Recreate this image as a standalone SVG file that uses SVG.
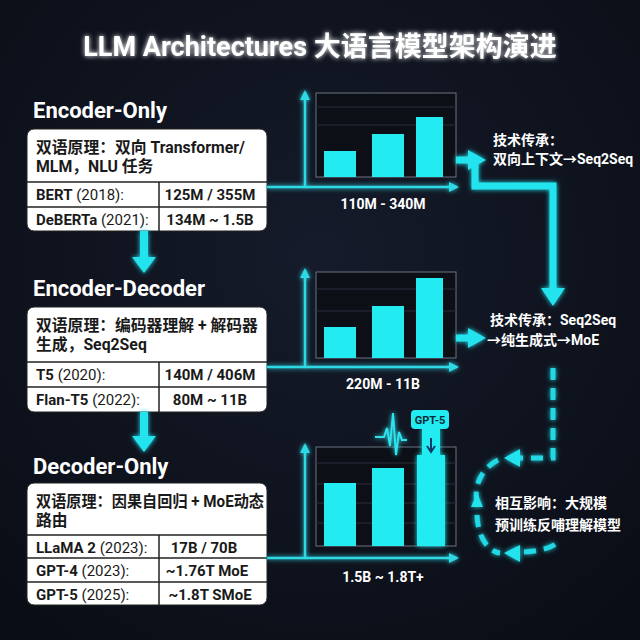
<svg xmlns="http://www.w3.org/2000/svg" width="640" height="640" viewBox="0 0 640 640">
<defs>
<radialGradient id="bg" cx="50%" cy="40%" r="75%"><stop offset="0" stop-color="#151b2a"/><stop offset="1" stop-color="#0a0d15"/></radialGradient>
<filter id="glow" x="-20%" y="-20%" width="140%" height="140%"><feGaussianBlur stdDeviation="2.5" result="b"/><feMerge><feMergeNode in="b"/><feMergeNode in="SourceGraphic"/></feMerge></filter>
<marker id="ah" viewBox="0 0 10 10" refX="8" refY="5" markerWidth="4" markerHeight="4" orient="auto"><path d="M0,0 L10,5 L0,10 z" fill="#2fd9e6"/></marker>
<style>
text{font-family:Roboto,"Noto Sans CJK SC",sans-serif}
.ttl{font-size:27px;font-weight:700;fill:#fff}
.h{font-size:22px;font-weight:700;fill:#fff}
.card{fill:#fff;stroke:#222;stroke-width:1}
.div{stroke:#222;stroke-width:1.5}
.d{font-size:15.8px;font-weight:700;fill:#1a1a1a}
.r{font-size:15px;fill:#1a1a1a}
.rb{font-weight:700}
.v{font-size:15px;font-weight:700;fill:#1a1a1a;text-anchor:middle}
.ax{stroke:#2fd9e6;stroke-width:2.5;fill:none}
.box{fill:#0c0f16;stroke:#6b7280;stroke-width:1}
.grid{stroke:#2a2f3a;stroke-width:1}
.bar{fill:#22ecf2}
.lab{font-size:14px;font-weight:700;fill:#fff;text-anchor:middle}
.note{font-size:14px;font-weight:700;fill:#fff}
.thick{stroke:#22e3ee;stroke-width:7;fill:none}
.dash{stroke:#22d8e4;stroke-width:5;fill:none;stroke-dasharray:12 8}
.cy{fill:#22e3ee}
</style>
</defs>
<rect width="640" height="640" fill="url(#bg)"/>
<text class="ttl" x="320" y="56" text-anchor="middle" filter="url(#glow)">LLM Architectures 大语言模型架构演进</text>

<g id="encoder-only">
<text class="h" x="33" y="118">Encoder-Only</text>
<rect class="card" x="27" y="129" width="240" height="102" rx="7"/>
<line class="div" x1="27" y1="182" x2="267" y2="182"/><line class="div" x1="27" y1="207" x2="267" y2="207"/><line class="div" x1="159" y1="182" x2="159" y2="231"/>
<text class="d" x="36" y="153">双语原理：双向 Transformer/</text>
<text class="d" x="36" y="172">MLM，NLU 任务</text>
<text class="r" x="36" y="200"><tspan class="rb">BERT</tspan> (2018):</text>
<text class="r" x="36" y="225"><tspan class="rb">DeBERTa</tspan> (2021):</text>
<text class="v" x="210" y="200">125M / 355M</text>
<text class="v" x="210" y="225">134M ~ 1.5B</text>
</g>

<g id="encoder-decoder">
<text class="h" x="33" y="296">Encoder-Decoder</text>
<rect class="card" x="27" y="307" width="240" height="105" rx="7"/>
<line class="div" x1="27" y1="362" x2="267" y2="362"/><line class="div" x1="27" y1="387" x2="267" y2="387"/><line class="div" x1="159" y1="362" x2="159" y2="412"/>
<text class="d" x="36" y="331">双语原理：编码器理解 + 解码器</text>
<text class="d" x="36" y="350">生成，Seq2Seq</text>
<text class="r" x="36" y="380"><tspan class="rb">T5</tspan> (2020):</text>
<text class="r" x="36" y="405"><tspan class="rb">Flan-T5</tspan> (2022):</text>
<text class="v" x="210" y="380">140M / 406M</text>
<text class="v" x="210" y="405">80M ~ 11B</text>
</g>

<g id="decoder-only">
<text class="h" x="33" y="474">Decoder-Only</text>
<rect class="card" x="27" y="483" width="240" height="122" rx="7"/>
<line class="div" x1="27" y1="535" x2="267" y2="535"/><line class="div" x1="27" y1="558" x2="267" y2="558"/><line class="div" x1="27" y1="582" x2="267" y2="582"/><line class="div" x1="159" y1="535" x2="159" y2="605"/>
<text class="d" x="36" y="507" textLength="228" lengthAdjust="spacingAndGlyphs">双语原理：因果自回归 + MoE动态</text>
<text class="d" x="36" y="526">路由</text>
<text class="r" x="36" y="553"><tspan class="rb">LLaMA 2</tspan> (2023):</text>
<text class="r" x="36" y="576"><tspan class="rb">GPT-4</tspan> (2023):</text>
<text class="r" x="36" y="600"><tspan class="rb">GPT-5</tspan> (2025):</text>
<text class="v" x="204" y="553">17B  / 70B</text>
<text class="v" x="207" y="576">~1.76T MoE</text>
<text class="v" x="210" y="600">~1.8T SMoE</text>
</g>

<g id="chart-1">
<rect class="box" x="316" y="93" width="140" height="84"/>
<line class="grid" x1="316" y1="107" x2="456" y2="107"/><line class="grid" x1="316" y1="125" x2="456" y2="125"/>
<rect class="bar" x="324" y="151" width="32" height="26"/><rect class="bar" x="372" y="134" width="32" height="43"/><rect class="bar" x="416" y="117" width="27" height="60"/>
<text class="lab" x="383" y="209">110M - 340M</text>
</g>
<g id="chart-2">
<rect class="box" x="316" y="272" width="140" height="86"/>
<line class="grid" x1="316" y1="289" x2="456" y2="289"/><line class="grid" x1="316" y1="311" x2="456" y2="311"/>
<rect class="bar" x="324" y="327" width="32" height="31"/><rect class="bar" x="372" y="306" width="32" height="52"/><rect class="bar" x="416" y="278" width="27" height="80"/>
<text class="lab" x="383" y="389">220M - 11B</text>
</g>
<g id="chart-3">
<rect class="box" x="316" y="447" width="140" height="99"/>
<line class="grid" x1="316" y1="463" x2="456" y2="463"/><line class="grid" x1="316" y1="484" x2="456" y2="484"/><line class="grid" x1="316" y1="503" x2="456" y2="503"/><line class="grid" x1="316" y1="523" x2="456" y2="523"/>
<rect class="bar" x="324" y="483" width="32" height="63"/><rect class="bar" x="372" y="468" width="32" height="78"/>
<path class="bar" d="M417,546 V455 H422 V428 H440 V455 H445 V546 z" filter="url(#glow)"/>
<rect x="411" y="410" width="38" height="19" rx="4" fill="#22ecf2"/>
<text x="430" y="424" font-size="11" font-weight="700" fill="#0b2a35" text-anchor="middle">GPT-5</text>
<path d="M431,438 V450 M427,446 L431,452 L435,446" stroke="#0d3a6a" stroke-width="2" fill="none"/>
<path d="M375,437 H384 L387,428 L390,446 L393,413 L396,455 L399,432 L402,440 H407" stroke="#2fe3ee" stroke-width="2" fill="none" filter="url(#glow)"/>
<text class="lab" x="383" y="582">1.5B ~ 1.8T+</text>
</g>

<g id="notes">
<text class="note" x="493" y="145">技术传承：</text>
<text class="note" x="493" y="164">双向上下文→Seq2Seq</text>
<text class="note" x="490" y="325">技术传承：Seq2Seq</text>
<text class="note" x="487" y="345">→纯生成式→MoE</text>
<text class="note" x="495" y="508">相互影响：大规模</text>
<text class="note" x="495" y="530">预训练反哺理解模型</text>
</g>

<g id="connectors" filter="url(#glow)">
<path class="ax" d="M267,187 H457" marker-end="url(#ah)"/>
<path class="ax" d="M305,187 V92" marker-end="url(#ah)"/>
<path class="ax" d="M267,367 H457" marker-end="url(#ah)"/>
<path class="ax" d="M305,367 V270" marker-end="url(#ah)"/>
<path class="ax" d="M267,558 H457" marker-end="url(#ah)"/>
<path class="ax" d="M305,558 V445" marker-end="url(#ah)"/>
<rect class="cy" x="140" y="231" width="8" height="28"/><path class="cy" d="M132,257 H156 L144,273 z"/>
<rect class="cy" x="140" y="412" width="8" height="26"/><path class="cy" d="M132,436 H156 L144,452 z"/>
<path class="thick" d="M456,160 H470"/><path class="cy" d="M468,150 L486,160 L468,170 z"/>
<path class="thick" d="M475,160 V186 H553 V290"/><path class="cy" d="M541,288 H565 L553,306 z"/>
<path class="thick" d="M456,338 H470"/><path class="cy" d="M468,328 L486,338 L468,348 z"/>
<path class="dash" d="M553,368 V458 H518"/><path class="cy" d="M520,449 L504,458 L520,467 z"/>
<path class="dash" d="M498,460 C478,470 474,492 477,500"/>
<path class="cy" d="M471,507 L477,493 L483,507 z"/>
<path class="dash" d="M477,515 C478,540 490,552 500,553"/>
<path class="cy" d="M520,545 L504,553 L520,562 z"/>
<path class="dash" d="M524,552 C540,551 552,548 558,542"/>
</g>
</svg>
